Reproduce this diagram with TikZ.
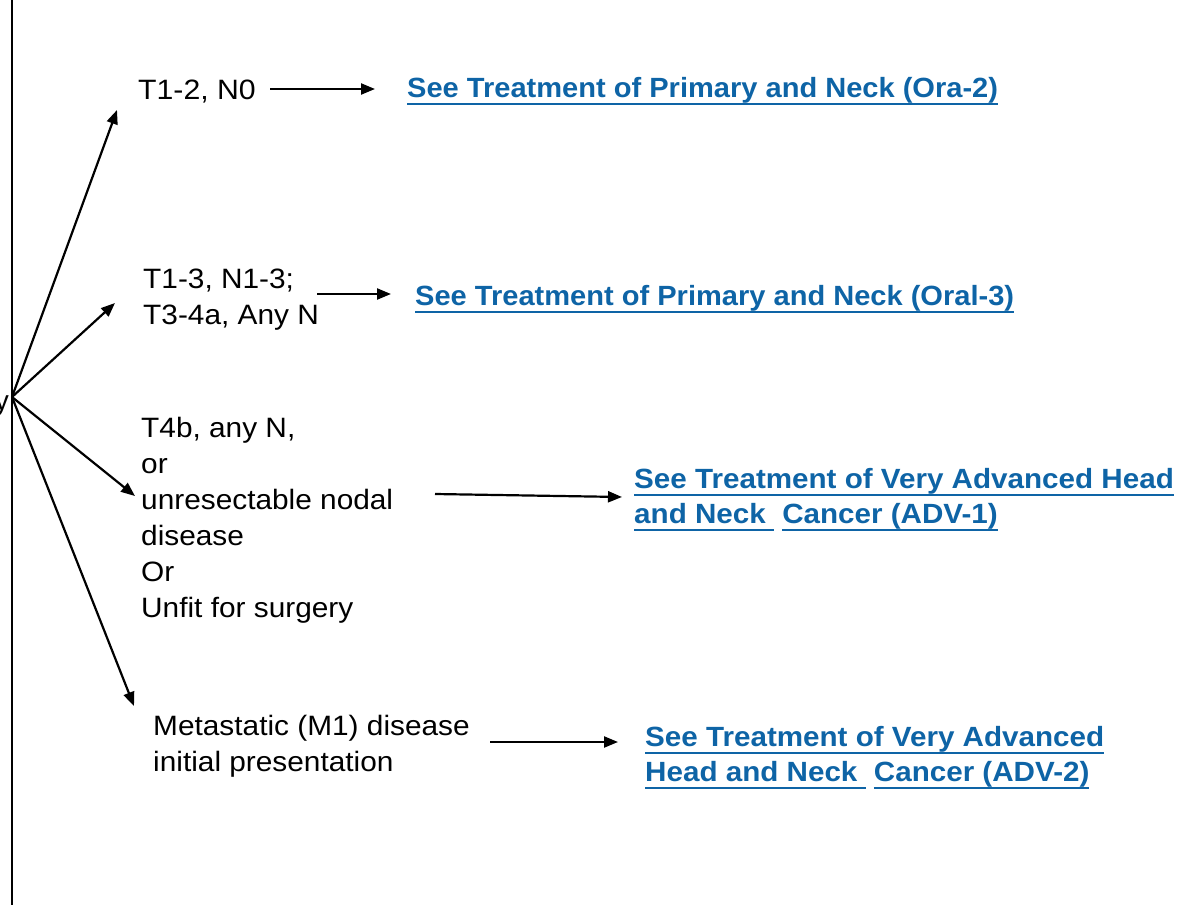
\documentclass[tikz,border=0pt]{standalone}
\usepackage{fontspec}
\setmainfont{Liberation Sans}
\usetikzlibrary{arrows.meta}
\definecolor{linkblue}{RGB}{14,100,166}
\newcommand\ulseg[1]{\setbox0\hbox{#1}\rlap{\color{linkblue}\rule[-7.5pt]{\wd0}{1.5pt}}\box0}
\newcommand\widen[2]{\scalebox{#1}[1]{#2}}
\begin{document}
\begin{tikzpicture}[x=1pt,y=-1pt,
  lbl/.style={inner sep=0pt, anchor=base west, font=\fontsize{28}{36}\selectfont},
  link/.style={inner sep=0pt, anchor=base west, text=linkblue, font=\fontsize{27.8}{35}\selectfont\bfseries},
  arr/.style={line width=2.2pt, -{Triangle[length=14pt,width=11pt]}}]
\useasboundingbox (0,0) rectangle (1184,905);
\clip (0,0) rectangle (1184,905);
% spine
\coordinate (top) at (12,0);
\coordinate (bot) at (12,905);
\draw[line width=2pt] (top) -- (bot);
\coordinate (o) at (12,397);
\node[lbl, anchor=base east] (cut) at (9,410) {y};
% left labels
\node[lbl] (t12) at (138,99) {\widen{1.08}{T1-2, N0}};
\node[lbl] (t13) at (143,288) {\widen{1.065}{\begin{tabular}[t]{@{}l@{}}T1-3, N1-3;\\T3-4a, Any N\end{tabular}}};
\node[lbl] (t4b) at (141,437) {\widen{1.065}{\begin{tabular}[t]{@{}l@{}}T4b, any N,\\or\\unresectable nodal\\disease\\Or\\Unfit for surgery\end{tabular}}};
\node[lbl] (m1) at (153,735) {\widen{1.065}{\begin{tabular}[t]{@{}l@{}}Metastatic (M1) disease\\initial presentation\end{tabular}}};
% links
\node[link] (l1) at (407,97) {\widen{1.045}{\ulseg{See Treatment of Primary and Neck (Ora-2)}}};
\node[link] (l2) at (415,305) {\widen{1.045}{\ulseg{See Treatment of Primary and Neck (Oral-3)}}};
\node[link] (l3) at (634,488) {\widen{1.065}{\begin{tabular}[t]{@{}l@{}}\ulseg{See Treatment of Very Advanced Head}\\\ulseg{and Neck\ }\ \ulseg{Cancer (ADV-1)}\end{tabular}}};
\node[link] (l4) at (645,746) {\widen{1.065}{\begin{tabular}[t]{@{}l@{}}\ulseg{See Treatment of Very Advanced}\\\ulseg{Head and Neck\ }\ \ulseg{Cancer (ADV-2)}\end{tabular}}};
% fan arrows
\coordinate (a1) at (117,110);
\coordinate (a2) at (115,303);
\coordinate (a3) at (135,496);
\coordinate (a4) at (134,706);
\draw[arr] (o) -- (a1);
\draw[arr] (o) -- (a2);
\draw[arr] (o) -- (a3);
\draw[arr] (o) -- (a4);
% horizontal arrows
\coordinate (h1s) at (270,89);  \coordinate (h1e) at (375,89);
\coordinate (h2s) at (317,294); \coordinate (h2e) at (391,294);
\coordinate (h3s) at (435,494); \coordinate (h3e) at (622,497);
\coordinate (h4s) at (490,742); \coordinate (h4e) at (618,742);
\draw[arr] (h1s) -- (h1e);
\draw[arr] (h2s) -- (h2e);
\draw[arr] (h3s) -- (h3e);
\draw[arr] (h4s) -- (h4e);
\end{tikzpicture}
\end{document}
